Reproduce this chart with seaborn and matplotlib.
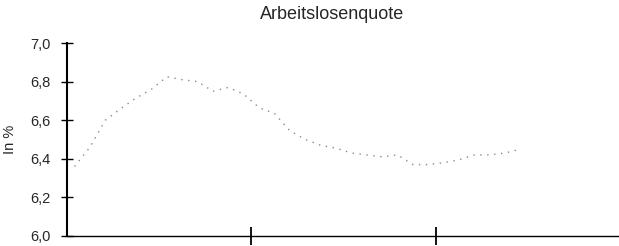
import numpy as np
import pandas as pd
import seaborn as sns
import matplotlib.pyplot as plt

# Arbeitslosenquote, monatlich
monate = list(range(30))
quote = [6.36, 6.46, 6.60, 6.66, 6.715, 6.76, 6.825, 6.81, 6.80, 6.75,
         6.77, 6.735, 6.665, 6.635, 6.545, 6.50, 6.47, 6.455, 6.43, 6.42,
         6.41, 6.42, 6.37, 6.37, 6.38, 6.395, 6.42, 6.42, 6.43, 6.45]
y_ticks = [6.0, 6.2, 6.4, 6.6, 6.8, 7.0]
y_labels = ["6,0", "6,2", "6,4", "6,6", "6,8", "7,0"]
x_grenzen = [11.5, 23.5]

df = pd.DataFrame({"monat": monate, "quote": quote})

sns.set_style("white")
plt.rcParams['font.family'] = ['Liberation Sans', 'DejaVu Sans']

fig = plt.figure(figsize=(6.19, 2.46), dpi=100)
ax = fig.add_axes([0.108, 0.041, 0.892, 0.784])

sns.lineplot(data=df, x="monat", y="quote", ax=ax, color="#8a8a8a",
             linewidth=1.0, linestyle=(0, (1, 4)))

ax.set_xlim(-0.5, 35.4)
ax.set_ylim(6.0, 7.0)
ax.set_yticks(y_ticks)
ax.set_yticklabels(y_labels, fontsize=10.5)
ax.set_xticks(x_grenzen)
ax.set_xticklabels([])
ax.set_xlabel("")
ax.set_ylabel("In %", fontsize=10.5, labelpad=9)

ax.tick_params(axis="x", bottom=True, direction="inout", length=13, width=1.3, color="black")
ax.tick_params(axis="y", left=True, direction="inout", length=8, width=1.0, color="black", pad=8)

for s in ["top", "right"]:
    ax.spines[s].set_visible(False)
ax.spines["left"].set_color("black")
ax.spines["left"].set_linewidth(1.5)
ax.spines["bottom"].set_color("black")
ax.spines["bottom"].set_linewidth(1.0)

fig.text(0.536, 0.943, "Arbeitslosenquote", ha="center", va="center", fontsize=13)

fig.savefig("out.png", dpi=100)
